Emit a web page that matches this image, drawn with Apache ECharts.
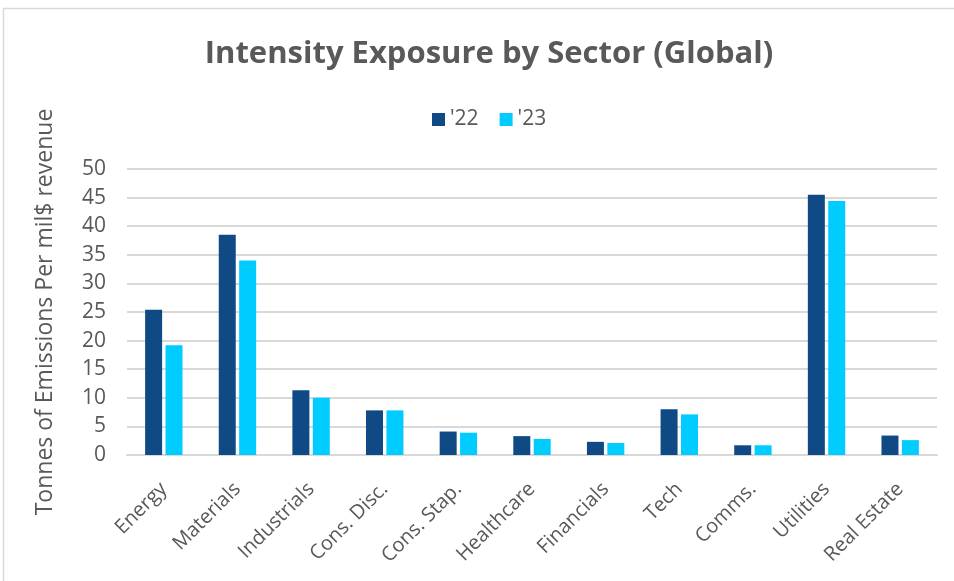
<!DOCTYPE html>
<html>
<head>
<meta charset="utf-8">
<script src="https://cdn.jsdelivr.net/npm/echarts@6/dist/echarts.min.js"></script>
<style>
  html, body { margin: 0; padding: 0; background: #fff; }
  #chart { width: 954px; height: 581px; }
</style>
</head>
<body>
<div id="chart"></div>
<script>
// Sector categories and emission intensity per year
const sectors = ['Energy', 'Materials', 'Industrials', 'Cons. Disc.', 'Cons. Stap.', 'Healthcare',
  'Financials', 'Tech', 'Comms.', 'Utilities', 'Real Estate'];
const values22 = [25.4, 38.5, 11.3, 7.8, 4.1, 3.3, 2.3, 8.0, 1.7, 45.5, 3.4];
const values23 = [19.2, 34.0, 10.0, 7.8, 3.9, 2.8, 2.1, 7.1, 1.7, 44.4, 2.6];
const seriesNames = ["'22", "'23"];
const yTicks = { min: 0, max: 50, interval: 5 };

const textColor = '#595959';
const font = 'Open Sans';

const chart = echarts.init(document.getElementById('chart'), null, { renderer: 'canvas' });
chart.setOption({
  backgroundColor: '#ffffff',
  textStyle: { fontFamily: font },
  graphic: [{
    type: 'rect',
    shape: { x: 3.5, y: 8.5, width: 960, height: 600 },
    style: { fill: 'none', stroke: '#d9d9d9', lineWidth: 1.5 },
    silent: true
  }],
  title: {
    text: 'Intensity Exposure by Sector (Global)',
    left: 484, top: 34, textAlign: 'center',
    textStyle: { fontFamily: font, fontSize: 31, fontWeight: 'bold', color: textColor }
  },
  legend: {
    data: seriesNames,
    left: 427, top: 104,
    itemWidth: 13, itemHeight: 13, itemGap: 21,
    icon: 'rect',
    textStyle: { fontFamily: font, fontSize: 21, color: textColor }
  },
  grid: { left: 127, right: 17, top: 169, bottom: 126, containLabel: false },
  xAxis: {
    type: 'category',
    data: sectors,
    axisLine: { show: true, lineStyle: { color: '#d9d9d9', width: 2 } },
    axisTick: { show: false },
    axisLabel: {
      rotate: 45, margin: 31, interval: 0,
      fontFamily: font, fontSize: 20, color: textColor
    }
  },
  yAxis: {
    type: 'value',
    min: yTicks.min, max: yTicks.max, interval: yTicks.interval,
    name: 'Tonnes of Emissions Per mil$ revenue',
    nameLocation: 'middle', nameGap: 70,
    nameTextStyle: { fontFamily: font, fontSize: 23, color: textColor },
    axisLine: { show: false },
    axisTick: { show: false },
    axisLabel: { margin: 21, fontFamily: font, fontSize: 21, color: textColor },
    splitLine: { lineStyle: { color: '#d9d9d9', width: 2 } }
  },
  series: [
    {
      name: seriesNames[0], type: 'bar', data: values22,
      barWidth: 17, barGap: '20%',
      itemStyle: { color: '#0F4A84' }
    },
    {
      name: seriesNames[1], type: 'bar', data: values23,
      barWidth: 17,
      itemStyle: { color: '#00CCFF' }
    }
  ]
});
</script>
</body>
</html>
